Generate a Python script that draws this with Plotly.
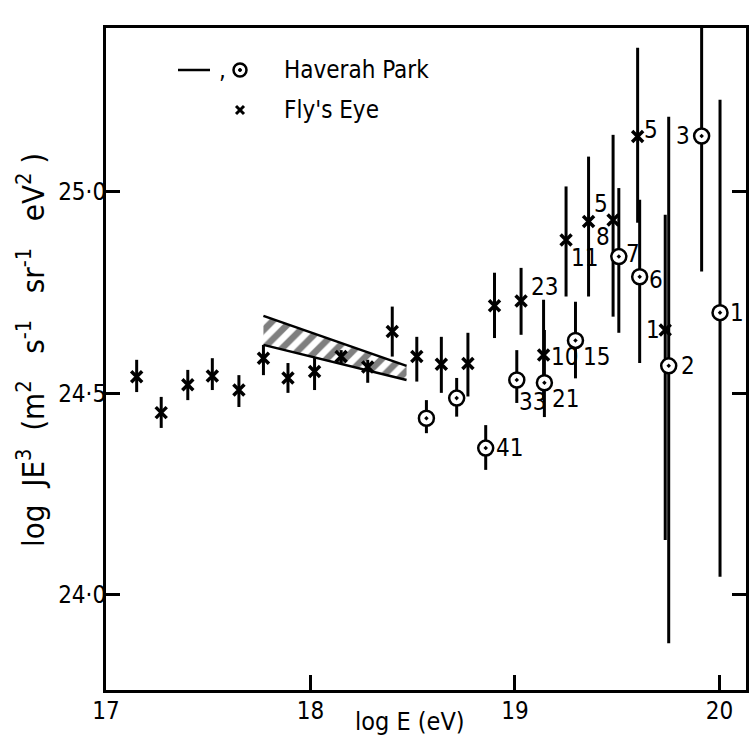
import numpy as np
import plotly.graph_objects as go

# Fly's Eye spectrum: log E, log JE^3 and the ends of each error bar
fe_logE = [17.15, 17.27, 17.40, 17.52, 17.65, 17.77, 17.89, 18.02, 18.15, 18.28,
           18.40, 18.52, 18.64, 18.77, 18.90, 19.03, 19.14, 19.25, 19.36, 19.48,
           19.60, 19.735]
fe_logJE3 = [24.541, 24.452, 24.521, 24.543, 24.508, 24.587, 24.538, 24.554, 24.591, 24.565,
             24.653, 24.591, 24.572, 24.574, 24.717, 24.729, 24.595, 24.880, 24.926, 24.930,
             25.137, 24.657]
fe_upper = [24.583, 24.491, 24.558, 24.587, 24.545, 24.620, 24.575, 24.588, 24.607, 24.583,
            24.715, 24.640, 24.640, 24.650, 24.799, 24.811, 24.732, 25.013, 25.087, 25.141,
            25.357, 24.943]
fe_lower = [24.503, 24.414, 24.483, 24.508, 24.466, 24.545, 24.501, 24.508, 24.575, 24.526,
            24.591, 24.529, 24.501, 24.492, 24.637, 24.645, 24.483, 24.740, 24.740, 24.690,
            24.923, 24.136]
fe_events = ["", "", "", "", "", "", "", "", "", "",
             "", "", "", "", "", "23", "10", "11", "8", "5",
             "5", "1"]

# Haverah Park spectrum
hp_logE = [18.567, 18.715, 18.857, 19.009, 19.144, 19.296, 19.508, 19.610, 19.752, 19.913, 20.003]
hp_logJE3 = [24.438, 24.488, 24.364, 24.533, 24.526, 24.631, 24.839, 24.789, 24.568, 25.138, 24.700]
hp_upper = [24.483, 24.538, 24.421, 24.607, 24.657, 24.727, 25.009, 24.980, 25.186, 25.427, 25.228]
hp_lower = [24.401, 24.442, 24.310, 24.476, 24.441, 24.537, 24.650, 24.575, 23.880, 24.802, 24.045]
hp_events = ["", "", "41", "33", "21", "15", "7", "6", "2", "3", "1"]

# Hatched band (earlier measurement) between two bounding lines
band_logE = [17.77, 18.47]
band_top = [24.692, 24.568]
band_bottom = [24.620, 24.533]

x_ticks = [17, 18, 19, 20]
x_ticktext = ["17", "18", "19", "20"]
y_ticks = [24.0, 24.5, 25.0]
y_ticktext = ["24·0", "24·5", "25·0"]

FONT = "DejaVu Sans Condensed, Liberation Sans Narrow, DejaVu Sans, sans-serif"

fe_y = np.array(fe_logJE3)
hp_y = np.array(hp_logJE3)

fig = go.Figure()

# hatched band
fig.add_trace(go.Scatter(
    x=band_logE + band_logE[::-1],
    y=band_top + band_bottom[::-1],
    fill="toself", mode="none",
    fillcolor="white",
    fillpattern=dict(shape="/", fgcolor="black", bgcolor="white", size=13, solidity=0.5),
    hoverinfo="skip", showlegend=False,
))
for edge in (band_top, band_bottom):
    fig.add_trace(go.Scatter(x=band_logE, y=edge, mode="lines",
                             line=dict(color="black", width=2.5),
                             hoverinfo="skip", showlegend=False))

# Fly's Eye points
fig.add_trace(go.Scatter(
    x=fe_logE, y=fe_logJE3, mode="markers", name="Fly's Eye",
    marker=dict(symbol="x-thin", size=11, color="black",
                line=dict(color="black", width=3.5)),
    error_y=dict(type="data", symmetric=False,
                 array=np.array(fe_upper) - fe_y,
                 arrayminus=fe_y - np.array(fe_lower),
                 thickness=3, width=0, color="black"),
    showlegend=False,
))

# Haverah Park points
fig.add_trace(go.Scatter(
    x=hp_logE, y=hp_logJE3, mode="markers", name="Haverah Park",
    marker=dict(symbol="circle-dot", size=15, color="white",
                line=dict(color="black", width=2.5)),
    error_y=dict(type="data", symmetric=False,
                 array=np.array(hp_upper) - hp_y,
                 arrayminus=hp_y - np.array(hp_lower),
                 thickness=3, width=0, color="black"),
    showlegend=False, cliponaxis=False,
))

# event-count labels beside points: (xanchor, xshift, yshift)
fe_offsets = {15: ("left", 8, 14), 16: ("left", 5, -2), 17: ("left", 3, -18),
              18: ("left", 5, -15), 19: ("right", -3, 16), 20: ("left", 4, 6),
              21: ("right", -3, 0)}
hp_offsets = {2: ("left", 8, 0), 3: ("left", 0, -22), 4: ("left", 6, -16),
              5: ("left", 6, -17), 6: ("left", 5, 3), 7: ("left", 7, -3),
              8: ("left", 10, 0), 9: ("right", -10, 0), 10: ("left", 8, 0)}

annotations = []
for xs, ys, labels, offs in ((fe_logE, fe_logJE3, fe_events, fe_offsets),
                             (hp_logE, hp_logJE3, hp_events, hp_offsets)):
    for i, lab in enumerate(labels):
        if not lab:
            continue
        anc, dx, dy = offs[i]
        annotations.append(dict(x=xs[i], y=ys[i], text=lab, showarrow=False,
                                xanchor=anc, yanchor="middle", xshift=dx, yshift=dy,
                                font=dict(family=FONT, size=24, color="black")))

# key in the upper-left corner
def px(xp):
    return (xp - 106) / 640

def py(yp):
    return (690 - yp) / 662

def sup(s):
    return "<sup>" + s + "</sup>"

NB = "\u00a0"
y_title = ("log" + NB + " JE" + sup("3") + NB + " (m" + sup("2") + NB * 2 + " s" + sup("-1")
           + NB * 2 + " sr" + sup("-1") + NB * 2 + " eV" + sup("2") + " )")

annotations += [
    dict(x=px(282), y=py(70), xref="paper", yref="paper", text="Haverah Park",
         showarrow=False, xanchor="left", yanchor="middle",
         font=dict(family=FONT, size=24, color="black")),
    dict(x=px(282), y=py(110), xref="paper", yref="paper", text="Fly's Eye",
         showarrow=False, xanchor="left", yanchor="middle",
         font=dict(family=FONT, size=24, color="black")),
    dict(x=px(222), y=py(70), xref="paper", yref="paper", text=",",
         showarrow=False, xanchor="center", yanchor="middle",
         font=dict(family=FONT, size=24, color="black")),
    # axis titles
    dict(x=px(410), y=py(721), xref="paper", yref="paper", text="log E (eV)",
         showarrow=False, xanchor="center", yanchor="middle",
         font=dict(family=FONT, size=25, color="black")),
    dict(x=px(31), y=py(350), xref="paper", yref="paper", textangle=-90,
         text=y_title, showarrow=False, xanchor="center", yanchor="middle",
         font=dict(family=FONT, size=31, color="black")),
]

shapes = [
    dict(type="line", xref="paper", yref="paper", x0=px(178), x1=px(210),
         y0=py(70), y1=py(70), line=dict(color="black", width=2.5)),
    dict(type="circle", xref="paper", yref="paper", xsizemode="pixel", ysizemode="pixel",
         xanchor=px(240), yanchor=py(70), x0=-6.5, x1=6.5, y0=-6.5, y1=6.5,
         line=dict(color="black", width=2.5), fillcolor="white"),
    dict(type="circle", xref="paper", yref="paper", xsizemode="pixel", ysizemode="pixel",
         xanchor=px(240), yanchor=py(70), x0=-1.5, x1=1.5, y0=-1.5, y1=1.5,
         line=dict(color="black", width=1), fillcolor="black"),
    dict(type="line", xref="paper", yref="paper", xsizemode="pixel", ysizemode="pixel",
         xanchor=px(240), yanchor=py(110), x0=-4, x1=4, y0=-4, y1=4,
         line=dict(color="black", width=3)),
    dict(type="line", xref="paper", yref="paper", xsizemode="pixel", ysizemode="pixel",
         xanchor=px(240), yanchor=py(110), x0=-4, x1=4, y0=4, y1=-4,
         line=dict(color="black", width=3)),
]

fig.update_layout(
    width=749, height=736,
    margin=dict(l=106, r=3, t=28, b=46),
    paper_bgcolor="white", plot_bgcolor="white",
    font=dict(family=FONT, size=24, color="black"),
    annotations=annotations, shapes=shapes,
    showlegend=False,
)
fig.update_xaxes(
    range=[17.0, 20.13], showgrid=False, zeroline=False, automargin=False,
    showline=True, linecolor="black", linewidth=3, mirror=True,
    ticks="inside", ticklen=15, tickwidth=2.5, tickcolor="black",
    tickvals=x_ticks, ticktext=x_ticktext, ticklabelstandoff=-3,
    tickfont=dict(family=FONT, size=24),
)
fig.update_yaxes(
    range=[23.764, 25.406], showgrid=False, zeroline=False, automargin=False,
    showline=True, linecolor="black", linewidth=3, mirror="ticks",
    ticks="inside", ticklen=14, tickwidth=2.5, tickcolor="black",
    tickvals=y_ticks, ticktext=y_ticktext, ticklabelstandoff=-8,
    tickfont=dict(family=FONT, size=24),
)

fig.write_html("out.html")
